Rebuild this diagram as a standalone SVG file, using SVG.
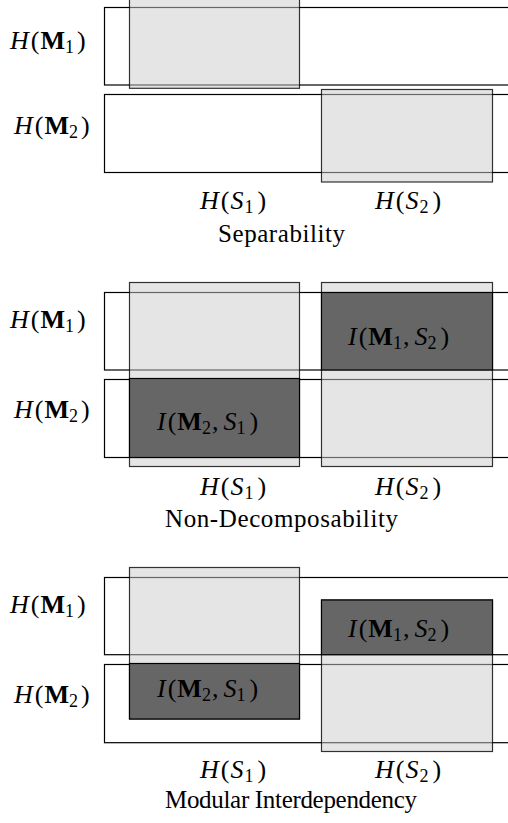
<svg xmlns="http://www.w3.org/2000/svg" width="508" height="823" viewBox="0 0 508 823">
<style>
text{font-family:"Liberation Serif","Times New Roman",serif;font-size:25px;fill:#000}
.m{font-size:26px}
.it{font-style:italic}
.bf{font-weight:bold}
.sb{font-size:18px}
.row{fill:none;stroke:#000;stroke-width:1.2}
.lt{fill:#cccccc;fill-opacity:0.5;stroke:#000;stroke-opacity:0.8;stroke-width:1.2}
.dk{fill:#666666;stroke:#000;stroke-width:1.2}
</style>
<rect width="508" height="823" fill="#fff"/>
<g id="panel1">
  <g id="p1-rows">
    <rect class="row" x="104.5" y="7.5" width="420" height="77.5"/>
    <rect class="row" x="104.5" y="94.5" width="420" height="78"/>
  </g>
  <g id="p1-S1"><rect class="lt" x="129.5" y="-2.5" width="170" height="90.8"/></g>
  <g id="p1-S2"><rect class="lt" x="321.5" y="89.5" width="171" height="92.5"/></g>
  <g id="p1-labels">
    <text class="m" x="10" y="49"><tspan class="it">H</tspan><tspan dx="2">(</tspan><tspan class="bf" dx="1">M</tspan><tspan class="sb" dy="4">1</tspan><tspan dy="-4" dx="3">)</tspan></text>
    <text class="m" x="14" y="134"><tspan class="it">H</tspan><tspan dx="2">(</tspan><tspan class="bf" dx="1">M</tspan><tspan class="sb" dy="4">2</tspan><tspan dy="-4" dx="3">)</tspan></text>
    <text class="m" x="200" y="209"><tspan class="it">H</tspan><tspan dx="2">(</tspan><tspan class="it" dx="1">S</tspan><tspan class="sb" dy="4" dx="1">1</tspan><tspan dy="-4" dx="4">)</tspan></text>
    <text class="m" x="375" y="209"><tspan class="it">H</tspan><tspan dx="2">(</tspan><tspan class="it" dx="1">S</tspan><tspan class="sb" dy="4" dx="1">2</tspan><tspan dy="-4" dx="4">)</tspan></text>
    <text x="218" y="242" textLength="127">Separability</text>
  </g>
</g>
<g id="panel2">
  <g id="p2-rows">
    <rect class="row" x="104.5" y="292.5" width="420" height="77.5"/>
    <rect class="row" x="104.5" y="379.5" width="420" height="78"/>
  </g>
  <g id="p2-S1"><rect class="lt" x="129.5" y="282.5" width="170" height="184"/></g>
  <g id="p2-S2"><rect class="lt" x="321.5" y="282.5" width="171" height="184"/></g>
  <g id="p2-I12"><rect class="dk" x="321.5" y="292.5" width="171" height="77.5"/>
    <text class="m" x="348" y="345"><tspan class="it">I</tspan><tspan dx="2">(</tspan><tspan class="bf" dx="1">M</tspan><tspan class="sb" dy="4">1</tspan><tspan dy="-4" dx="1">,</tspan><tspan class="it" dx="5">S</tspan><tspan class="sb" dy="4">2</tspan><tspan dy="-4" dx="4">)</tspan></text>
  </g>
  <g id="p2-I21"><rect class="dk" x="129.5" y="378.5" width="170" height="79"/>
    <text class="m" x="157" y="430"><tspan class="it">I</tspan><tspan dx="2">(</tspan><tspan class="bf" dx="1">M</tspan><tspan class="sb" dy="4">2</tspan><tspan dy="-4" dx="1">,</tspan><tspan class="it" dx="5">S</tspan><tspan class="sb" dy="4">1</tspan><tspan dy="-4" dx="4">)</tspan></text>
  </g>
  <g id="p2-labels">
    <text class="m" x="10" y="328"><tspan class="it">H</tspan><tspan dx="2">(</tspan><tspan class="bf" dx="1">M</tspan><tspan class="sb" dy="4">1</tspan><tspan dy="-4" dx="3">)</tspan></text>
    <text class="m" x="14" y="418"><tspan class="it">H</tspan><tspan dx="2">(</tspan><tspan class="bf" dx="1">M</tspan><tspan class="sb" dy="4">2</tspan><tspan dy="-4" dx="3">)</tspan></text>
    <text class="m" x="200" y="495"><tspan class="it">H</tspan><tspan dx="2">(</tspan><tspan class="it" dx="1">S</tspan><tspan class="sb" dy="4" dx="1">1</tspan><tspan dy="-4" dx="4">)</tspan></text>
    <text class="m" x="375" y="495"><tspan class="it">H</tspan><tspan dx="2">(</tspan><tspan class="it" dx="1">S</tspan><tspan class="sb" dy="4" dx="1">2</tspan><tspan dy="-4" dx="4">)</tspan></text>
    <text x="165" y="527" textLength="233">Non-Decomposability</text>
  </g>
</g>
<g id="panel3">
  <g id="p3-rows">
    <rect class="row" x="104.5" y="577.5" width="420" height="77.2"/>
    <rect class="row" x="104.5" y="664.5" width="420" height="78.2"/>
  </g>
  <g id="p3-S1"><rect class="lt" x="129.5" y="567.5" width="170" height="151.5"/></g>
  <g id="p3-S2"><rect class="lt" x="321.5" y="600" width="171" height="151.5"/></g>
  <g id="p3-I12"><rect class="dk" x="321.5" y="600" width="171" height="54.7"/>
    <text class="m" x="348" y="637"><tspan class="it">I</tspan><tspan dx="2">(</tspan><tspan class="bf" dx="1">M</tspan><tspan class="sb" dy="4">1</tspan><tspan dy="-4" dx="1">,</tspan><tspan class="it" dx="5">S</tspan><tspan class="sb" dy="4">2</tspan><tspan dy="-4" dx="4">)</tspan></text>
  </g>
  <g id="p3-I21"><rect class="dk" x="129.5" y="663.5" width="170" height="55.5"/>
    <text class="m" x="157" y="697"><tspan class="it">I</tspan><tspan dx="2">(</tspan><tspan class="bf" dx="1">M</tspan><tspan class="sb" dy="4">2</tspan><tspan dy="-4" dx="1">,</tspan><tspan class="it" dx="5">S</tspan><tspan class="sb" dy="4">1</tspan><tspan dy="-4" dx="4">)</tspan></text>
  </g>
  <g id="p3-labels">
    <text class="m" x="10" y="613"><tspan class="it">H</tspan><tspan dx="2">(</tspan><tspan class="bf" dx="1">M</tspan><tspan class="sb" dy="4">1</tspan><tspan dy="-4" dx="3">)</tspan></text>
    <text class="m" x="14" y="703"><tspan class="it">H</tspan><tspan dx="2">(</tspan><tspan class="bf" dx="1">M</tspan><tspan class="sb" dy="4">2</tspan><tspan dy="-4" dx="3">)</tspan></text>
    <text class="m" x="200" y="778"><tspan class="it">H</tspan><tspan dx="2">(</tspan><tspan class="it" dx="1">S</tspan><tspan class="sb" dy="4" dx="1">1</tspan><tspan dy="-4" dx="4">)</tspan></text>
    <text class="m" x="375" y="778"><tspan class="it">H</tspan><tspan dx="2">(</tspan><tspan class="it" dx="1">S</tspan><tspan class="sb" dy="4" dx="1">2</tspan><tspan dy="-4" dx="4">)</tspan></text>
    <text x="165" y="808" textLength="252">Modular Interdependency</text>
  </g>
</g>
</svg>
